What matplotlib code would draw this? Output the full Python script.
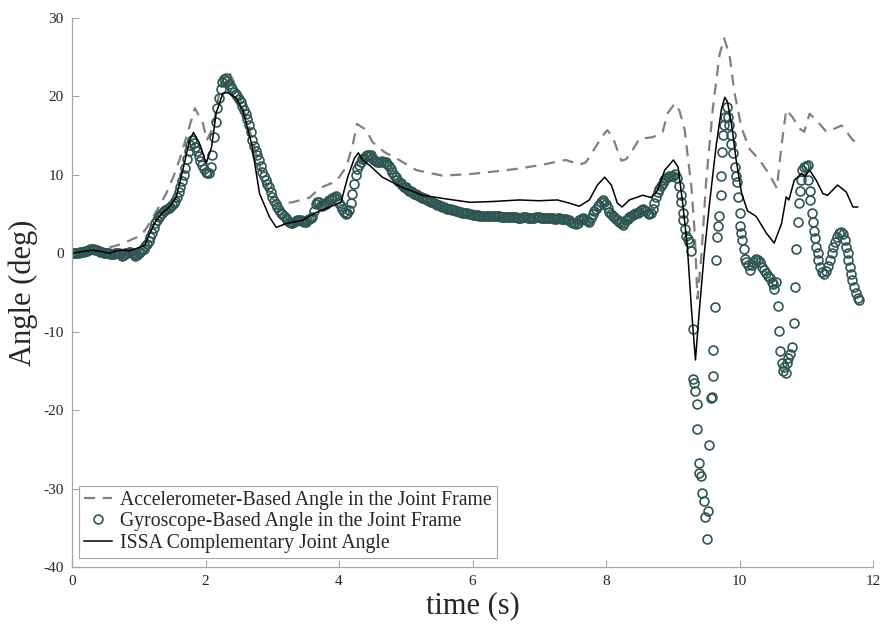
import numpy as np
import matplotlib
matplotlib.use('Agg')
import matplotlib.pyplot as plt

plt.rcParams['font.family'] = ['Liberation Serif', 'DejaVu Serif']
plt.rcParams['axes.unicode_minus'] = False

# accelerometer based joint angle (deg)
acc_t = [0, 0.3, 0.5, 0.75, 0.96, 1.05, 1.16, 1.28, 1.41, 1.52, 1.61, 1.72, 1.84, 1.96, 2.02,
         2.11, 2.24, 2.35, 2.5, 2.7, 2.85, 3.0, 3.1, 3.3, 3.56, 3.71, 3.96, 4.11, 4.21, 4.27,
         4.41, 4.5, 4.68, 4.9, 5.16, 5.55, 5.96, 6.3, 6.7, 7.05, 7.4, 7.6, 7.7, 7.95, 8.02,
         8.1, 8.23, 8.3, 8.38, 8.5, 8.7, 8.85, 8.92, 9.03, 9.1, 9.18, 9.22, 9.28, 9.33, 9.37,
         9.43, 9.5, 9.6, 9.7, 9.77, 9.85, 9.92, 10.03, 10.15, 10.3, 10.45, 10.56, 10.63, 10.7,
         10.79, 10.9, 10.97, 11.05, 11.17, 11.3, 11.4, 11.53, 11.7, 11.76]
acc_deg = [0, 0.3, 0.6, 1.2, 2.0, 2.4, 3.8, 5.6, 7.6, 9.8, 11.9, 15.0, 18.5, 16.6, 14.4,
           16.0, 22.0, 23.2, 20.5, 14.5, 10.0, 7.0, 6.3, 6.5, 7.1, 8.3, 9.2, 11.0, 14.0, 16.5,
           15.7, 14.2, 12.9, 11.9, 10.6, 9.9, 10.1, 10.4, 10.8, 11.3, 11.9, 11.3, 11.6, 15.0, 15.7,
           14.8, 11.8, 12.0, 12.9, 14.6, 14.8, 15.5, 17.8, 19.1, 18.2, 15.7, 12.7, 8.4, 2.5, -5.8,
           -0.2, 9.1, 18.4, 25.3, 27.4, 25.3, 20.7, 16.0, 13.3, 11.9, 10.0, 8.3, 13.8, 18.3,
           17.4, 15.9, 15.5, 17.8, 16.8, 15.5, 15.8, 16.3, 14.4, 14.2]

# gyroscope based joint angle, 0.025 s steps up to 8.975 s (one row per second)
gyro_slow_deg = [
    0.0, 0.0, 0.1, 0.1, 0.1, 0.2, 0.2, 0.2, 0.3, 0.3, 0.4, 0.5, 0.5, 0.5, 0.4, 0.4, 0.3, 0.2, 0.2, 0.1,
    0.1, 0.0, 0.0, -0.1, -0.1, -0.1, 0.0, 0.1, 0.1, -0.1, -0.3, -0.2, 0.0, 0.1, 0.2, 0.2, 0.1, -0.1, -0.3, -0.2,
    0.0, 0.2, 0.4, 0.6, 0.9, 1.2, 1.6, 2.1, 2.6, 3.2, 3.8, 4.2, 4.6, 4.9, 5.2, 5.4, 5.5, 5.6, 5.8, 5.9,
    6.1, 6.4, 6.7, 7.2, 7.8, 8.5, 9.2, 10.0, 10.9, 12.0, 13.0, 13.8, 14.4, 14.1, 13.6, 13.0, 12.4, 11.8, 11.2, 10.8,
    10.4, 10.2, 10.2, 11.0, 12.5, 14.8, 16.8, 18.5, 19.8, 21.0, 21.8, 22.2, 22.3, 22.0, 21.6, 21.2, 20.9, 20.6, 20.3, 20.0,
    19.7, 19.3, 18.8, 18.3, 17.8, 17.1, 16.4, 15.5, 14.5, 13.7, 13.0, 12.5, 11.9, 11.1, 10.4, 9.8, 9.3, 8.8, 8.4, 7.8,
    7.2, 6.7, 6.3, 5.9, 5.5, 5.2, 5.0, 4.7, 4.5, 4.2, 4.0, 3.9, 3.9, 4.0, 4.1, 4.2, 4.2, 4.2, 4.1, 4.0,
    4.0, 4.2, 4.4, 4.5, 4.6, 5.4, 6.3, 6.5, 6.5, 6.2, 6.0, 6.1, 6.3, 6.6, 6.8, 6.9, 7.0, 7.2, 7.3, 6.9,
    6.4, 6.0, 5.6, 5.3, 5.0, 5.1, 5.5, 6.4, 7.6, 8.8, 10.0, 10.7, 11.3, 11.7, 12.0, 12.2, 12.4, 12.5, 12.5, 12.5,
    12.1, 11.9, 11.8, 11.7, 11.6, 11.7, 11.8, 11.7, 11.6, 11.4, 11.1, 10.8, 10.4, 10.0, 9.7, 9.4, 9.1, 8.9, 8.7, 8.5,
    8.4, 8.2, 8.0, 7.9, 7.8, 7.6, 7.5, 7.4, 7.3, 7.2, 7.1, 7.0, 6.9, 6.8, 6.7, 6.6, 6.5, 6.4, 6.3, 6.2,
    6.1, 6.0, 5.9, 5.9, 5.8, 5.7, 5.6, 5.6, 5.5, 5.5, 5.4, 5.4, 5.3, 5.3, 5.2, 5.2, 5.1, 5.1, 5.0, 5.0,
    4.9, 4.9, 4.9, 4.9, 4.8, 4.8, 4.8, 4.8, 4.8, 4.7, 4.7, 4.7, 4.7, 4.7, 4.7, 4.7, 4.7, 4.6, 4.6, 4.6,
    4.6, 4.6, 4.6, 4.6, 4.6, 4.6, 4.6, 4.5, 4.5, 4.5, 4.6, 4.6, 4.6, 4.5, 4.5, 4.5, 4.5, 4.5, 4.6, 4.6,
    4.6, 4.5, 4.5, 4.5, 4.5, 4.5, 4.5, 4.5, 4.5, 4.4, 4.4, 4.5, 4.5, 4.4, 4.4, 4.4, 4.4, 4.3, 4.2, 4.0,
    3.9, 3.8, 3.7, 3.9, 4.2, 4.4, 4.5, 4.4, 4.3, 4.1, 4.0, 4.5, 5.0, 5.4, 5.7, 6.0, 6.2, 6.5, 6.8, 6.6,
    6.3, 5.8, 5.3, 5.0, 4.8, 4.6, 4.4, 4.2, 4.0, 3.8, 3.6, 3.9, 4.2, 4.4, 4.6, 4.8, 4.9, 5.0, 5.1, 5.2,
    5.3, 5.5, 5.6, 5.5, 5.4, 5.2, 5.0, 5.2, 5.6, 6.4, 7.2, 7.8, 8.2, 8.6, 8.9, 9.3, 9.6, 9.7, 9.8, 9.9]
gyro_slow_t = np.round(np.arange(len(gyro_slow_deg)) * 0.025, 3)

# gyroscope samples during the fast movements after 9 s
gyro_fast_t = [9.00, 9.04, 9.07, 9.10, 9.12, 9.13, 9.15, 9.16, 9.18, 9.20, 9.23, 9.25, 9.28, 9.30,
               9.31, 9.32, 9.34, 9.36, 9.37, 9.39, 9.40, 9.42, 9.44, 9.47, 9.49, 9.51, 9.53, 9.55,
               9.57, 9.59, 9.60, 9.61, 9.63, 9.65, 9.66, 9.68, 9.69, 9.72, 9.73, 9.74, 9.75, 9.77,
               9.79, 9.81, 9.83, 9.85, 9.87, 9.88, 9.90, 9.93, 9.95, 9.96, 9.98, 10.00, 10.01, 10.02,
               10.04, 10.06, 10.08, 10.10, 10.13, 10.15, 10.18, 10.20, 10.23, 10.25, 10.28, 10.30,
               10.33, 10.36, 10.40, 10.43, 10.45, 10.48, 10.50, 10.52, 10.55, 10.57, 10.59, 10.61,
               10.63, 10.65, 10.67, 10.69, 10.71, 10.73, 10.76, 10.79, 10.81, 10.83, 10.85, 10.87,
               10.89, 10.90, 10.92, 10.94, 10.96, 10.99, 11.02, 11.03, 11.05, 11.06, 11.08, 11.10,
               11.11, 11.13, 11.15, 11.17, 11.18, 11.20, 11.23, 11.27, 11.30, 11.33, 11.36, 11.38,
               11.40, 11.43, 11.46, 11.49, 11.52, 11.55, 11.58, 11.60, 11.62, 11.63, 11.65, 11.67,
               11.69, 11.71, 11.74, 11.77, 11.79]
gyro_fast_deg = [9.9, 10.1, 9.6, 8.6, 7.4, 6.5, 5.2, 4.2, 3.1, 2.2, 1.8, 1.5, 0.3, -9.7,
                 -16.0, -16.6, -17.6, -19.2, -22.4, -26.7, -28.0, -28.4, -30.6, -31.6, -33.6, -36.4, -32.9, -24.5,
                 -18.5, -18.3, -15.7, -12.3, -6.9, -0.9, 2.1, 3.5, 4.7, 7.4, 9.8, 12.9, 15.1, 16.3,
                 17.4, 18.6, 17.4, 16.3, 15.1, 13.9, 12.8, 11.0, 9.8, 9.1, 7.2, 5.1, 3.5, 2.6,
                 1.7, 0.5, -0.7, -1.1, -1.5, -2.1, -1.5, -1.1, -0.8, -0.7, -0.9, -1.1,
                 -1.7, -2.1, -2.5, -2.9, -3.2, -3.7, -3.9, -4.5, -3.6, -6.7, -9.9, -12.5,
                 -14.0, -15.0, -14.5, -15.3, -14.0, -13.4, -12.8, -12.0, -8.9, -4.3, 0.6, 4.0,
                 6.4, 8.0, 9.3, 10.6, 11.0, 11.1, 11.2, 9.3, 8.0, 6.8, 5.2, 4.0,
                 2.9, 1.9, 0.8, 0.0, -0.9, -1.7, -2.4, -2.6, -2.2, -1.6, -0.9, 0.1,
                 0.8, 1.4, 2.1, 2.6, 2.7, 2.5, 1.7, 0.8, 0.0, -0.9, -1.7, -2.6,
                 -3.4, -4.3, -5.1, -5.7, -6.0]

gyro_t = np.concatenate([gyro_slow_t, gyro_fast_t])
gyro_deg = np.concatenate([gyro_slow_deg, gyro_fast_deg])

# ISSA complementary filter output
issa_t = [0, 0.14, 0.31, 0.45, 0.56, 0.66, 0.76, 0.86, 0.96, 1.09, 1.16, 1.26, 1.36, 1.46, 1.56,
          1.66, 1.76, 1.82, 1.91, 2.01, 2.09, 2.16, 2.26, 2.33, 2.46, 2.56, 2.69, 2.81, 2.96, 3.06,
          3.21, 3.45, 3.66, 3.86, 4.03, 4.13, 4.23, 4.29, 4.35, 4.46, 4.65, 4.95, 5.25, 5.55, 5.96,
          6.3, 6.7, 7.0, 7.27, 7.45, 7.6, 7.75, 7.87, 7.98, 8.08, 8.17, 8.24, 8.35, 8.55, 8.68,
          8.77, 8.88, 9.01, 9.08, 9.15, 9.22, 9.28, 9.34, 9.4, 9.47, 9.55, 9.65, 9.73, 9.78, 9.82,
          9.88, 9.95, 10.03, 10.12, 10.25, 10.4, 10.52, 10.63, 10.7, 10.74, 10.82, 10.93, 10.98,
          11.05, 11.15, 11.25, 11.32, 11.47, 11.6, 11.7, 11.77]
issa_deg = [0, 0.2, 0.4, 0.2, 0, 0.3, 0.4, 0.3, 0.6, 1.0, 2.5, 4.2, 5.2, 5.9, 7.1,
            10.6, 14.4, 15.4, 14.0, 11.5, 13.5, 17.9, 20.4, 20.5, 19.8, 18.2, 14.0, 7.6, 4.6, 3.3,
            3.8, 4.2, 5.2, 5.9, 6.5, 9.7, 12.1, 12.8, 11.9, 11.2, 9.7, 8.4, 7.4, 7.0, 6.5,
            6.6, 6.8, 6.7, 6.8, 6.4, 6.0, 6.8, 8.7, 9.7, 8.7, 6.4, 5.9, 6.8, 7.4, 7.1,
            8.0, 10.6, 11.9, 11.0, 6.3, 0.7, -7.1, -13.6, -7.1, -0.2, 6.3, 13.7, 18.4, 19.9, 19.3,
            16.5, 11.9, 7.7, 5.4, 4.7, 2.6, 1.3, 3.8, 7.2, 6.8, 9.3, 10.2, 9.8,
            10.6, 9.3, 7.6, 7.4, 8.7, 7.8, 5.9, 5.9]

labels = ['Accelerometer-Based Angle in the Joint Frame',
          'Gyroscope-Based Angle in the Joint Frame',
          'ISSA Complementary Joint Angle']

fig = plt.figure(figsize=(8.86, 6.29), dpi=100)
ax = fig.add_axes([72 / 886, 62 / 629, 801 / 886, 549 / 629])

ax.plot(acc_t, acc_deg, linestyle=(0, (5, 3.5)), color='#808080', linewidth=1.6, label=labels[0])
ax.plot(gyro_t, gyro_deg, linestyle='none', marker='o', markersize=6.4, markerfacecolor='none',
        markeredgecolor='#2f5652', markeredgewidth=1.2, label=labels[1])
ax.plot(issa_t, issa_deg, color='black', linewidth=1.1, label=labels[2])

ax.set_xlim(0, 12)
ax.set_ylim(-40, 30)
ax.set_xticks(np.arange(0, 13, 2))
ax.set_yticks(np.arange(-40, 31, 10))

for side in ['top', 'right']:
    ax.spines[side].set_visible(False)
for side in ['left', 'bottom']:
    ax.spines[side].set_color('#a6a6a6')
    ax.spines[side].set_linewidth(0.9)
ax.tick_params(direction='in', length=5, width=0.8, color='#a6a6a6', labelcolor='#262626',
               labelsize=11, pad=6)

ax.set_xlabel('time (s)', fontsize=22, color='#262626', labelpad=2)
ax.set_ylabel('Angle (deg)', fontsize=22, color='#262626', labelpad=4)

leg = ax.legend(loc='lower left', bbox_to_anchor=(0.0087, 0.0164), borderaxespad=0,
                fontsize=14.2, handlelength=1.4, handletextpad=0.45, labelspacing=0.14,
                borderpad=0.25, fancybox=False, framealpha=1, edgecolor='#a6a6a6')
leg.get_frame().set_linewidth(0.8)
for txt in leg.get_texts():
    txt.set_color('#262626')

fig.savefig('out.png', dpi=100)
